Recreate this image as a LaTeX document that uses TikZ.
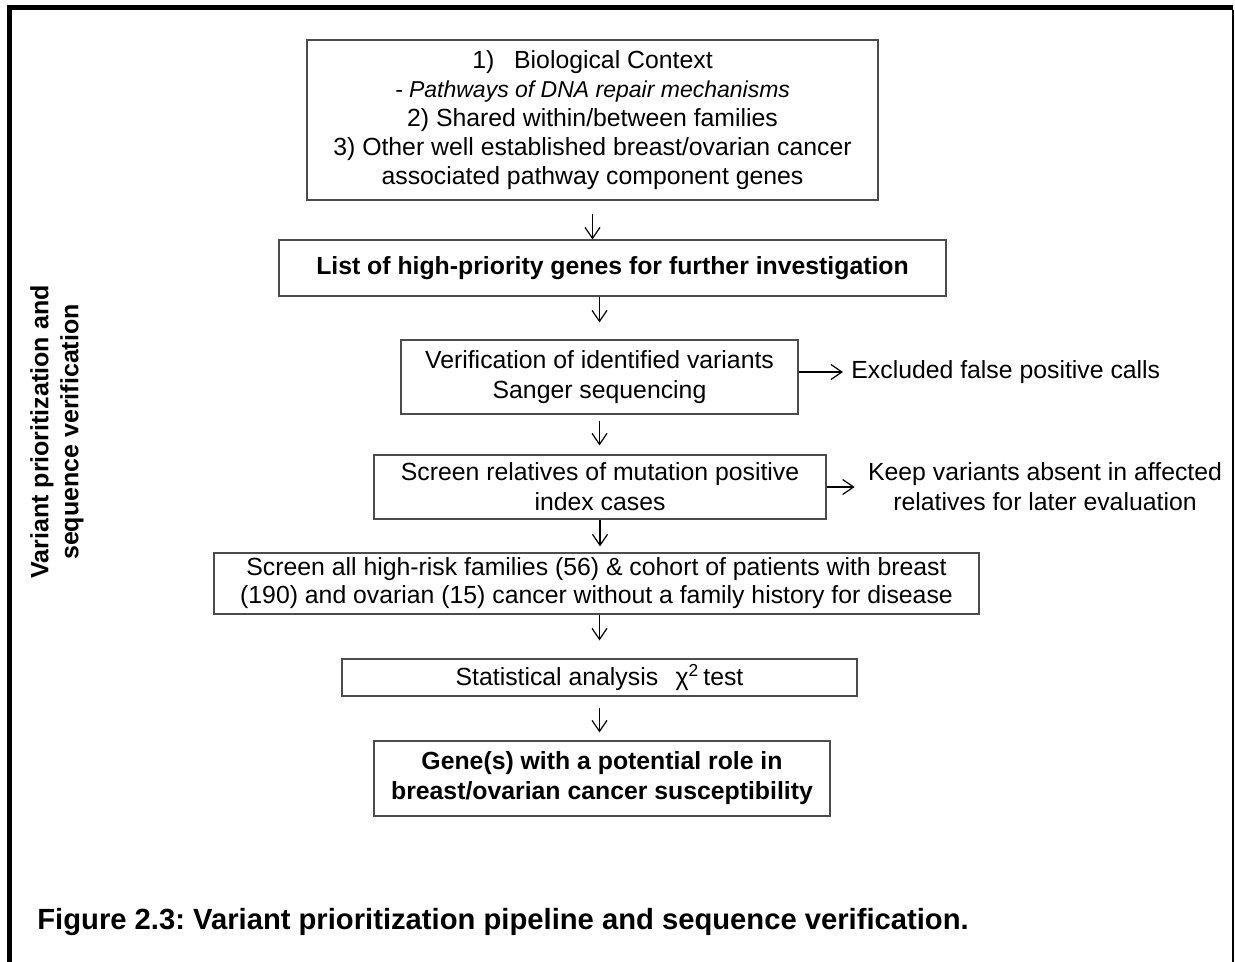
\documentclass[tikz,border=0pt]{standalone}
\usepackage{fontspec}
\setmainfont{Liberation Sans}
\usetikzlibrary{arrows.meta, calc}
\frenchspacing

\tikzset{
  stagebox/.style={draw=black!70, line width=0.6pt, align=center, inner sep=0pt,
    font=\fontsize{12.4}{15}\selectfont},
  sidenote/.style={align=center, inner sep=0pt, font=\fontsize{12.4}{15}\selectfont},
  arr/.style={-{Straight Barb[length=5.5pt,width=7.5pt]}, line width=0.6pt},
}

\begin{document}
\begin{tikzpicture}
\begin{scope}[x=0.5pt, y=-0.5pt]
\useasboundingbox (0,0) rectangle (1235,962);

% frame
\fill (7,5) rectangle (1233,10);
\fill (7,5) rectangle (12,962);
\draw[line width=0.6pt] (1233,10) -- (1233,962);

% stages
\node[stagebox, minimum width=285.5pt, minimum height=80pt, font=\fontsize{12.4}{14.5}\selectfont] (bio) at (592.5,120)
  {1)\hspace{0.8em}Biological Context\\
   {\fontsize{11.5}{14.5}\selectfont\itshape - Pathways of DNA repair mechanisms}\\
   2) Shared within/between families\\
   3) Other well established breast/ovarian cancer\\
   associated pathway component genes};
\node[stagebox, minimum width=333.5pt, minimum height=28pt, font=\fontsize{12.4}{15}\selectfont\bfseries] (genes) at (612.5,268)
  {List of high-priority genes for further investigation};
\node[stagebox, minimum width=198.5pt, minimum height=37pt] (verif) at (599.5,377)
  {Verification of identified variants\\Sanger sequencing};
\node[stagebox, minimum width=226pt, minimum height=32pt] (relat) at (600,487)
  {Screen relatives of mutation positive\\index cases};
\node[stagebox, minimum width=382.5pt, minimum height=30.5pt, font=\fontsize{12.4}{14}\selectfont] (cohort) at (596.5,583.5)
  {Screen all high-risk families (56) \& cohort of patients with breast\\
   (190) and ovarian (15) cancer without a family history for disease};
\node[stagebox, minimum width=257.5pt, minimum height=18.5pt] (stat) at (599.5,677.5)
  {Statistical analysis\hspace{0.7em}χ\textsuperscript{2}\,test};
\node[stagebox, minimum width=228pt, minimum height=37.5pt, font=\fontsize{12.4}{15}\selectfont\bfseries] (role) at (602,778.5)
  {Gene(s) with a potential role in\\breast/ovarian cancer susceptibility};

% side notes
\node[sidenote, anchor=west] (excl) at (851,372) {Excluded false positive calls};
\node[sidenote] (keep) at (1045,487) {Keep variants absent in affected\\relatives for later evaluation};

% labels
\node[rotate=90, align=center, inner sep=0pt, font=\fontsize{12.5}{15}\selectfont\bfseries] (side) at (57,432)
  {Variant prioritization and\\sequence verification};
\node[anchor=base west, inner sep=0pt, font=\fontsize{14.6}{17}\selectfont\bfseries] (cap) at (37,929)
  {Figure 2.3: Variant prioritization pipeline and sequence verification.};

% arrows
\draw[arr, shorten <=6.5pt] (bio.south) -- (bio.south |- genes.north);
\draw[arr, shorten >=8.5pt] (verif.north |- genes.south) -- (verif.north);
\draw[arr, shorten <=3pt, shorten >=4.5pt] (verif.south) -- (verif.south |- relat.north);
\draw[arr, shorten >=3pt] (relat.south) -- (relat.south |- cohort.north);
\draw[arr, shorten >=9pt] (stat.north |- cohort.south) -- (stat.north);
\draw[arr, shorten <=5.5pt, shorten >=4pt] (stat.south) -- (stat.south |- role.north);
\draw[arr, shorten >=4pt] (verif.east |- excl.west) -- (excl.west);
\draw[arr, shorten >=6.5pt] (relat.east |- keep.west) -- (keep.west);

\end{scope}
\end{tikzpicture}
\end{document}
